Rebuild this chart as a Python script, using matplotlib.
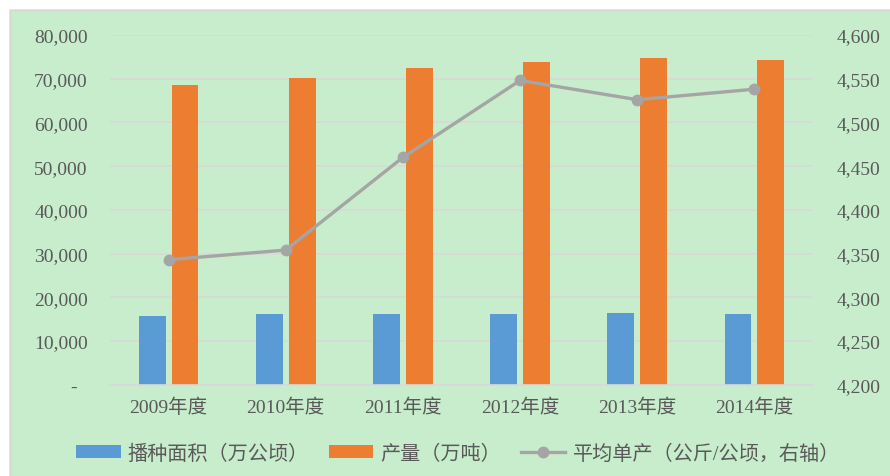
import numpy as np
import matplotlib
matplotlib.use('Agg')
import matplotlib.pyplot as plt
from matplotlib.patches import Rectangle
from matplotlib.ticker import FuncFormatter, MultipleLocator

# 数据
years = ['2009年度', '2010年度', '2011年度', '2012年度', '2013年度', '2014年度']
area = [15650, 16100, 16100, 16100, 16400, 16100]        # 播种面积（万公顷）
output = [68570, 70100, 72400, 73760, 74680, 74220]      # 产量（万吨）
yield_avg = [4343, 4354, 4460, 4548, 4526, 4538]         # 平均单产（公斤/公顷）

c_blue = '#5B9BD5'
c_orange = '#ED7D31'
c_gray = '#A5A5A5'
c_bg = '#C7EDCC'
c_grid = '#D9D9D9'
c_text = '#595959'
fonts = ['Liberation Serif', 'Noto Sans CJK SC']

plt.rcParams['font.family'] = fonts
plt.rcParams['axes.unicode_minus'] = False

fig = plt.figure(figsize=(8.9, 4.77), dpi=100, facecolor='white')
# 绿色背景框
fig.patches.append(Rectangle((10 / 890, -0.01), 1.0, 1 - 11 / 477 + 0.01,
                             transform=fig.transFigure, facecolor=c_bg,
                             edgecolor=c_grid, linewidth=1.8, zorder=-10))

ax = fig.add_axes([110 / 890, 1 - 385.7 / 477, 703 / 890, 349.7 / 477])
ax.set_facecolor('none')
x = np.arange(len(years))
w = 0.23
b1 = ax.bar(x - 0.14, area, w, color=c_blue, label='播种面积（万公顷）', zorder=2)
b2 = ax.bar(x + 0.14, output, w, color=c_orange, label='产量（万吨）', zorder=2)
ax.set_xlim(-0.5, len(years) - 0.5)
ax.set_ylim(0, 80000)
ax.yaxis.set_major_locator(MultipleLocator(10000))
ax.yaxis.set_major_formatter(FuncFormatter(lambda v, p: '-  ' if v == 0 else f'{int(v):,}'))
ax.grid(axis='y', color=c_grid, linewidth=1.2, zorder=0)
ax.set_axisbelow(True)
for s in ['top', 'right', 'left']:
    ax.spines[s].set_visible(False)
ax.spines['bottom'].set_color(c_grid)
ax.spines['bottom'].set_linewidth(1.2)
ax.set_xticks(x)
ax.set_xticklabels(years)
ax.tick_params(axis='both', length=0, labelsize=14, colors=c_text)
ax.tick_params(axis='y', pad=16)
ax.tick_params(axis='x', pad=9)

ax2 = ax.twinx()
ax2.set_facecolor('none')
l1, = ax2.plot(x, yield_avg, color=c_gray, linewidth=2.4, marker='o', markersize=7.5,
               label='平均单产（公斤/公顷，右轴）', zorder=3)
ax2.set_ylim(4200, 4600)
ax2.yaxis.set_major_locator(MultipleLocator(50))
ax2.yaxis.set_major_formatter(FuncFormatter(lambda v, p: f'{int(v):,}'))
for s in ax2.spines.values():
    s.set_visible(False)
ax2.tick_params(axis='y', length=0, labelsize=14, colors=c_text, pad=17)

leg = fig.legend(handles=[b1, b2, l1], loc='center', bbox_to_anchor=(458 / 890, 1 - 455 / 477),
                 ncol=3, frameon=False, fontsize=14.5,
                 handlelength=2.2, handleheight=0.55, handletextpad=0.35, columnspacing=1.0)
for t in leg.get_texts():
    t.set_color(c_text)

fig.savefig('out.png', dpi=100, facecolor=fig.get_facecolor())
